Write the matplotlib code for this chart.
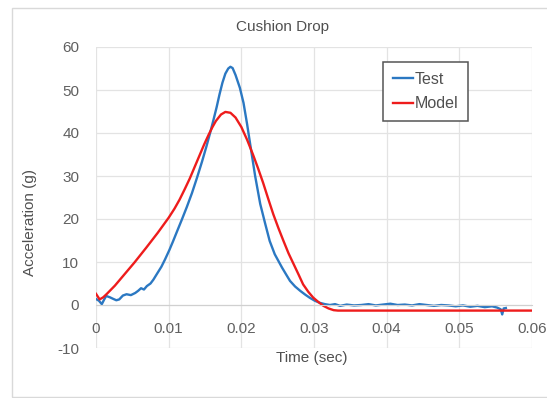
import matplotlib
matplotlib.use("Agg")
import matplotlib.pyplot as plt
from matplotlib.patches import Rectangle

plt.rcParams['font.family'] = ['Liberation Sans', 'DejaVu Sans']
plt.rcParams['axes.unicode_minus'] = False

test_t = [0.0000, 0.0004, 0.0008, 0.0011, 0.0014, 0.0019, 0.0024, 0.0028, 0.0032,
          0.0037, 0.0042, 0.0048, 0.0054, 0.0058, 0.0062, 0.0066, 0.0070, 0.0075,
          0.0079, 0.0083, 0.0090, 0.0095, 0.0101, 0.0106, 0.0111, 0.0118, 0.0125,
          0.0132, 0.0139, 0.0146, 0.0152, 0.0157, 0.0161, 0.0166, 0.0170, 0.0174,
          0.0178, 0.0182, 0.0185, 0.0188, 0.0192, 0.0198, 0.0203, 0.0208, 0.0213,
          0.0219, 0.0226, 0.0233, 0.0239, 0.0246, 0.0256, 0.0262, 0.0267, 0.0274,
          0.0281, 0.0288, 0.0294, 0.0301, 0.0308, 0.0315, 0.0322, 0.0329, 0.0336,
          0.0345, 0.0355, 0.0365, 0.0375, 0.0385, 0.0395, 0.0405, 0.0415, 0.0425,
          0.0435, 0.0445, 0.0455, 0.0465, 0.0475, 0.0485, 0.0495, 0.0505, 0.0515,
          0.0525, 0.0535, 0.0545, 0.0552, 0.0557, 0.0559, 0.0561, 0.0564]
test_g = [1.4, 1.0, 0.2, 1.2, 2.1, 1.8, 1.4, 1.1, 1.3,
          2.2, 2.5, 2.3, 2.8, 3.3, 3.9, 3.6, 4.4, 5.0,
          5.9, 7.0, 8.9, 10.6, 12.8, 14.8, 16.9, 19.8, 22.8,
          26.0, 29.6, 33.4, 36.9, 40.0, 42.6, 46.0, 49.0, 51.7,
          53.8, 55.0, 55.4, 55.1, 53.5, 50.5, 47.0, 42.0, 36.5,
          30.0, 23.5, 18.8, 14.9, 11.8, 8.7, 7.0, 5.6, 4.3,
          3.3, 2.4, 1.7, 1.0, 0.5, 0.2, 0.0, 0.2, -0.2,
          0.1, -0.1, 0.0, 0.2, -0.1, 0.1, 0.3, 0.0, 0.1,
          -0.1, 0.2, 0.0, -0.2, 0.0, -0.1, -0.3, -0.1, -0.4,
          -0.2, -0.5, -0.3, -0.6, -1.0, -2.2, -0.8, -0.7]

# Model acceleration
model_t = [0.0000, 0.0005, 0.0010, 0.0015, 0.0026, 0.0037, 0.0053, 0.0069, 0.0085,
           0.0100, 0.0108, 0.0115, 0.0122, 0.0129, 0.0136, 0.0143, 0.0149, 0.0155,
           0.0160, 0.0165, 0.0172, 0.0178, 0.0185, 0.0192, 0.0200, 0.0208, 0.0216,
           0.0223, 0.0230, 0.0237, 0.0244, 0.0251, 0.0258, 0.0265, 0.0272, 0.0279,
           0.0285, 0.0292, 0.0299, 0.0306, 0.0313, 0.0320, 0.0327, 0.0333, 0.0400,
           0.0500, 0.0600]
model_g = [2.6, 1.3, 1.8, 2.6, 4.5, 6.7, 9.9, 13.3, 16.8,
           20.3, 22.4, 24.5, 26.9, 29.4, 32.2, 35.0, 37.4, 39.6,
           41.3, 42.8, 44.3, 44.9, 44.7, 43.6, 41.4, 38.4, 35.0,
           31.8, 28.4, 24.7, 21.1, 17.9, 14.9, 12.0, 9.5, 7.0,
           4.8, 3.1, 1.7, 0.7, -0.2, -0.8, -1.2, -1.3, -1.3,
           -1.3, -1.3]

x_ticks = [0, 0.01, 0.02, 0.03, 0.04, 0.05, 0.06]
x_tick_labels = ['0', '0.01', '0.02', '0.03', '0.04', '0.05', '0.06']
y_ticks = [-10, 0, 10, 20, 30, 40, 50, 60]

W, H = 547, 398
fig = plt.figure(figsize=(W / 100, H / 100), dpi=100)

# chart area border
fig.patches.append(Rectangle((12 / W, 1 - 397 / H), 1.0, (397 - 8) / H,
                             transform=fig.transFigure, fill=False,
                             edgecolor='#d9d9d9', lw=1))

left, right, top, bottom = 96, 532, 47, 348
ax = fig.add_axes([left / W, 1 - bottom / H, (right - left) / W, (bottom - top) / H])

ax.plot(test_t, test_g, color='#2b78c2', lw=1.7, label='Test')
ax.plot(model_t, model_g, color='#ee1c1c', lw=1.7, label='Model')

ax.set_xlim(0, 0.06)
ax.set_ylim(-10, 60)
ax.set_xticks(x_ticks)
ax.set_xticklabels(x_tick_labels)
ax.set_yticks(y_ticks)

ax.grid(True, color='#e3e3e3', lw=0.9)
ax.set_axisbelow(True)
for s in ['top', 'right', 'left']:
    ax.spines[s].set_visible(False)
ax.spines['bottom'].set_position(('data', 0))
ax.spines['bottom'].set_color('#d0d0d0')
ax.tick_params(length=0, labelsize=11, labelcolor='#606060')
ax.tick_params(axis='x', pad=12)
ax.tick_params(axis='y', pad=12)

fig.text(283 / W, 1 - 27 / H, 'Cushion Drop', ha='center', va='center',
         fontsize=11, color='#505050')
fig.text(312 / W, 1 - 358 / H, 'Time (sec)', ha='center', va='center',
         fontsize=11, color='#505050')
fig.text(30 / W, 1 - 222 / H, 'Acceleration (g)', ha='center', va='center',
         rotation=90, fontsize=11, color='#505050')

leg = ax.legend(loc='upper left', bbox_to_anchor=(383 / W, 1 - 62 / H),
                bbox_transform=fig.transFigure, fancybox=False,
                edgecolor='#555555', framealpha=1, fontsize=11.5,
                handlelength=1.3, handletextpad=0.1, labelspacing=0.6,
                borderpad=0.6, borderaxespad=0)
leg.get_frame().set_linewidth(1.1)
for t in leg.get_texts():
    t.set_color('#505050')

fig.savefig('out.png', dpi=100)
